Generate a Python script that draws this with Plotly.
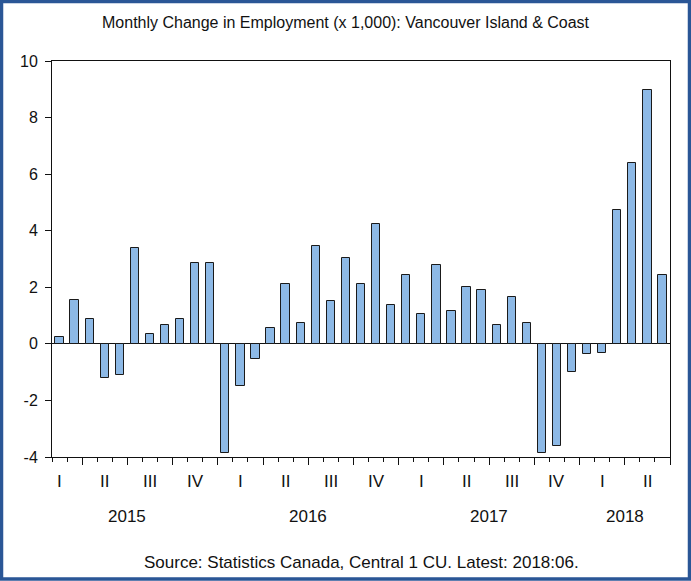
import plotly.graph_objects as go

# Data: monthly change in employment (x 1,000), Feb 2015 .. Jun 2018
months = [
    "2015-02", "2015-03", "2015-04", "2015-05", "2015-06", "2015-07", "2015-08", "2015-09", "2015-10", "2015-11", "2015-12",
    "2016-01", "2016-02", "2016-03", "2016-04", "2016-05", "2016-06", "2016-07", "2016-08", "2016-09", "2016-10", "2016-11", "2016-12",
    "2017-01", "2017-02", "2017-03", "2017-04", "2017-05", "2017-06", "2017-07", "2017-08", "2017-09", "2017-10", "2017-11", "2017-12",
    "2018-01", "2018-02", "2018-03", "2018-04", "2018-05", "2018-06",
]
values = [
    0.25, 1.54, 0.87, -1.22, -1.09, 3.38, 0.34, 0.65, 0.87, 2.85, 2.85,
    -3.86, -1.49, -0.52, 0.55, 2.11, 0.72, 3.47, 1.51, 3.02, 2.11, 4.25, 1.39,
    2.45, 1.06, 2.79, 1.15, 2.00, 1.91, 0.68, 1.66, 0.73, -3.86, -3.60, -0.99,
    -0.35, -0.34, 4.72, 6.39, 8.96, 2.44,
]
quarter_names = ["I", "II", "III", "IV"]
years = ["2015", "2016", "2017", "2018"]
yticks = [-4, -2, 0, 2, 4, 6, 8, 10]

title_text = "Monthly Change in Employment (x 1,000): Vancouver Island & Coast"
source_text = "Source: Statistics Canada, Central 1 CU. Latest: 2018:06."

# month index positions (Feb 2015 = 0)
y0, m0 = 2015, 2
def idx(y, m):
    return (y - y0) * 12 + (m - m0)

x = list(range(len(values)))

# quarter boundaries (major ticks) and quarter label positions
first_y, last_y = 2015, 2018
major = []
q_pos, q_txt = [], []
year_pos = []
for yr in range(first_y, last_y + 1):
    qc = []
    for q in range(4):
        start = idx(yr, 3 * q + 1)
        end = start + 2
        if end < -0.5 or start > len(values) - 0.5:
            continue
        c = start + 1
        q_pos.append(c)
        q_txt.append(quarter_names[q])
        qc.append(c)
        b = start - 0.5
        if -0.5 <= b <= len(values) - 0.5:
            major.append(b)
    year_pos.append(sum(qc) / len(qc))
major.append(len(values) - 0.5)

FONT = "Liberation Sans, Arial, sans-serif"

fig = go.Figure()
fig.add_trace(go.Bar(
    x=x, y=values, width=0.55,
    marker=dict(color="#8DB9E6", line=dict(color="#1a1a1a", width=1)),
    hoverinfo="y",
))

W, H = 691, 581
ml, mr, mt, mb = 52, 21, 61, 124
pw, ph = W - ml - mr, H - mt - mb

annotations = []
for p, t in zip(q_pos, q_txt):
    annotations.append(dict(x=p, y=-(481.5 - (H - mb)) / ph, xref="x", yref="paper",
                            text=t, showarrow=False, xanchor="center", yanchor="middle",
                            font=dict(size=17, color="#111", family=FONT)))
for p, t in zip(year_pos, years):
    annotations.append(dict(x=p, y=-(516.5 - (H - mb)) / ph, xref="x", yref="paper",
                            text=t, showarrow=False, xanchor="center", yanchor="middle",
                            font=dict(size=17, color="#111", family=FONT)))
annotations.append(dict(x=0.5, y=-(562 - (H - mb)) / ph, xref="paper", yref="paper",
                        text=source_text, showarrow=False, xanchor="center", yanchor="middle",
                        font=dict(size=17, color="#111", family=FONT)))
annotations.append(dict(x=(W / 2 - ml) / pw, y=1 + (mt - 22) / ph, xref="paper", yref="paper",
                        text=title_text, showarrow=False, xanchor="center", yanchor="middle",
                        font=dict(size=16, color="#111", family=FONT)))

# blue frame around whole figure
shapes = [dict(type="rect", xref="paper", yref="paper",
               x0=-(ml - 1.5) / pw, x1=1 + (mr - 1.5) / pw,
               y0=-(mb - 2) / ph, y1=1 + (mt - 1.5) / ph,
               line=dict(color="#2A5696", width=3.5), fillcolor="rgba(0,0,0,0)", layer="above")]

fig.update_layout(
    width=W, height=H,
    margin=dict(l=ml, r=mr, t=mt, b=mb, pad=0),
    paper_bgcolor="white", plot_bgcolor="white",
    showlegend=False,
    bargap=0,
    font=dict(family=FONT, size=15, color="#111"),
    annotations=annotations,
    shapes=shapes,
    xaxis=dict(
        range=[-0.5, len(values) - 0.5],
        tickmode="array", tickvals=major, ticktext=[""] * len(major),
        ticks="outside", ticklen=7, tickcolor="#111", tickwidth=1,
        minor=dict(tickmode="linear", tick0=-0.5, dtick=1, ticks="outside", ticklen=4,
                   tickcolor="#111", tickwidth=1, showgrid=False),
        showgrid=False, zeroline=False,
        showline=True, linecolor="#111", linewidth=1, mirror=True,
        fixedrange=True,
    ),
    yaxis=dict(
        range=[-4, 10],
        tickmode="array", tickvals=yticks, ticktext=[str(v) for v in yticks],
        ticks="outside", ticklen=6, tickcolor="#111", tickwidth=1,
        ticklabelstandoff=4,
        tickfont=dict(size=16, family=FONT, color="#111"),
        showgrid=False,
        zeroline=True, zerolinecolor="#111", zerolinewidth=1,
        showline=True, linecolor="#111", linewidth=1, mirror=True,
        fixedrange=True,
    ),
)

fig.write_html(
    "out.html",
    config={"displayModeBar": False},
    post_script="document.body.style.margin='0';document.body.style.padding='0';document.body.style.overflow='hidden';",
)
